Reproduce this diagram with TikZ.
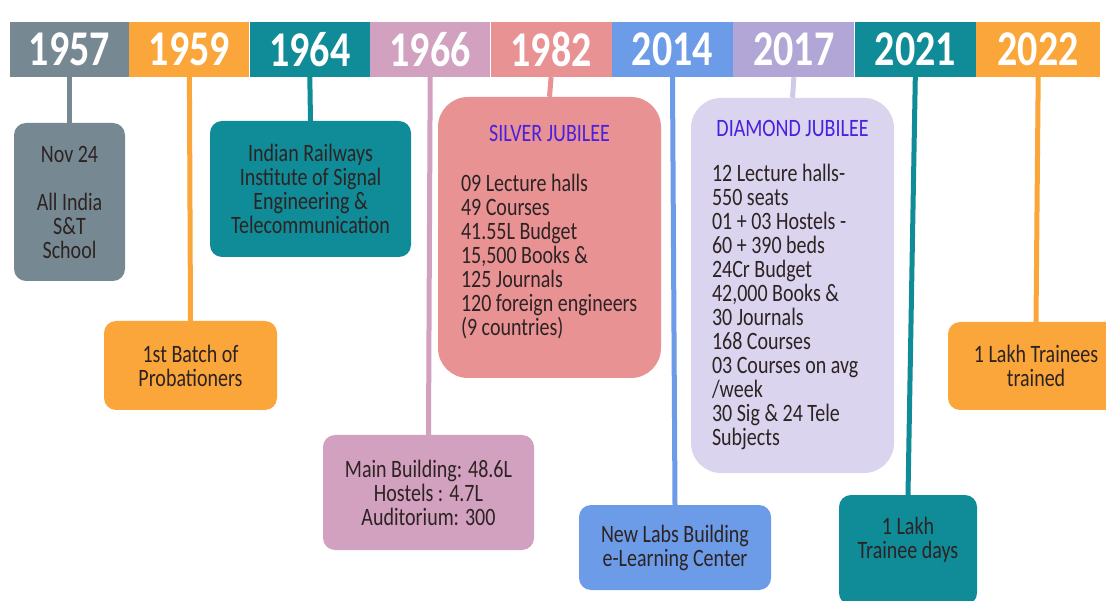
\documentclass[tikz,border=0pt]{standalone}
\usepackage{fontspec}
\setmainfont{Carlito}[FakeStretch=0.8]
\usetikzlibrary{positioning}

\definecolor{cgray}{RGB}{118,136,146}
\definecolor{corange}{RGB}{250,166,58}
\definecolor{cteal}{RGB}{16,139,152}
\definecolor{cmauve}{RGB}{210,161,191}
\definecolor{csalmon}{RGB}{232,146,148}
\definecolor{cblue}{RGB}{108,155,232}
\definecolor{clav}{RGB}{178,166,214}
\definecolor{clavbox}{RGB}{218,212,238}
\definecolor{clavline}{RGB}{206,202,234}
\definecolor{ctitle}{RGB}{72,32,222}
\definecolor{ctext}{RGB}{45,35,35}

\begin{document}
\begin{tikzpicture}[x=1pt, y=-1pt,
  yeartab/.style={minimum height=55pt, inner sep=0pt, text=white,
    font=\fontsize{50}{50}\selectfont\bfseries},
  evbox/.style={rounded corners=12pt, inner sep=0pt, align=center,
    text=ctext, font=\fontsize{25}{24}\selectfont},
  jubbox/.style={evbox, rounded corners=30pt, align=left},
  stem/.style={line width=5pt}]

\useasboundingbox (0,0) rectangle (1106,601);
\clip (0,0) rectangle (1106,601);
\fill[white] (0,0) rectangle (1106,601);

\def\yt{49.5}

% year bar
\node[yeartab, fill=cgray, minimum width=119pt] (t1957) at (69.5, \yt) {1957};
\node[yeartab, fill=corange, minimum width=120pt, right=0pt of t1957] (t1959) {1959};
\node[yeartab, fill=cteal, minimum width=120pt, right=0pt of t1959] (t1964) {1964};
\node[yeartab, fill=cmauve, minimum width=120pt, right=0pt of t1964] (t1966) {1966};
\node[yeartab, fill=csalmon, minimum width=121pt, right=0pt of t1966] (t1982) {1982};
\node[yeartab, fill=cblue, minimum width=121pt, right=0pt of t1982] (t2014) {2014};
\node[yeartab, fill=clav, minimum width=121pt, right=0pt of t2014] (t2017) {2017};
\node[yeartab, fill=cteal, minimum width=121pt, right=0pt of t2017] (t2021) {2021};
\node[yeartab, fill=corange, minimum width=124pt, right=0pt of t2021] (t2022) {2022};

% events
\node[evbox, fill=cgray, minimum width=111pt, minimum height=158pt] (e1957)
  at (69.5, 202) {Nov 24\\[24pt]All India\\S\&T\\School};
\node[evbox, fill=corange, minimum width=173pt, minimum height=89pt] (e1959)
  at (190.5, 365.5) {1st Batch of\\Probationers};
\node[evbox, fill=cteal, minimum width=201pt, minimum height=136pt] (e1964)
  at (310.5, 189) {Indian Railways\\Institute of Signal\\Engineering \&\\Telecommunication};
\node[evbox, fill=cmauve, minimum width=211pt, minimum height=115pt] (e1966)
  at (428.5, 492.5) {Main Building: 48.6L\\Hostels : 4.7L\\Auditorium: 300};
\node[jubbox, fill=csalmon, minimum width=223pt, minimum height=281pt] (e1982)
  at (549.5, 237.5) {\makebox[177pt]{\color{ctitle}SILVER JUBILEE}\\[26pt]
  09 Lecture halls\\49 Courses\\41.55L Budget\\15,500 Books \&\\125 Journals\\
  120 foreign engineers\\(9 countries)\\[-9pt]\mbox{}};
\node[evbox, fill=cblue, minimum width=192pt, minimum height=85pt] (e2014)
  at (675, 547.5) {New Labs Building\\e-Learning Center};
\node[jubbox, fill=clavbox, minimum width=203pt, minimum height=375pt] (e2017)
  at (792.5, 285.5) {\makebox[161pt]{\color{ctitle}DIAMOND JUBILEE}\\[21pt]
  12 Lecture halls-\\550 seats\\01 + 03 Hostels -\\60 + 390 beds\\24Cr Budget\\
  42,000 Books \&\\30 Journals\\168 Courses\\03 Courses on avg\\/week\\
  30 Sig \& 24 Tele\\Subjects};
\node[evbox, fill=cteal, minimum width=138pt, minimum height=110pt] (e2021)
  at (908, 550) {1 Lakh\\Trainee days\\\mbox{}};
\node[evbox, fill=corange, minimum width=176pt, minimum height=88pt] (e2022)
  at (1036, 366) {1 Lakh Trainees\\trained};

% stems
\draw[stem, draw=cgray] (t1957.south) -- (e1957.north);
\draw[stem, draw=corange] (t1959.south) -- (e1959.north);
\draw[stem, draw=cteal] (t1964.south) -- (e1964.north);
\draw[stem, draw=cmauve] (t1966.south) -- (e1966.north);
\draw[stem, draw=csalmon] (t1982.south) -- (e1982.north);
\draw[stem, draw=cblue] (t2014.south) -- (e2014.north);
\draw[stem, draw=clavline] (t2017.south) -- (e2017.north);
\draw[stem, draw=cteal] (t2021.south) -- (e2021.north);
\draw[stem, draw=corange] (t2022.south) -- (e2022.north);

\end{tikzpicture}
\end{document}
